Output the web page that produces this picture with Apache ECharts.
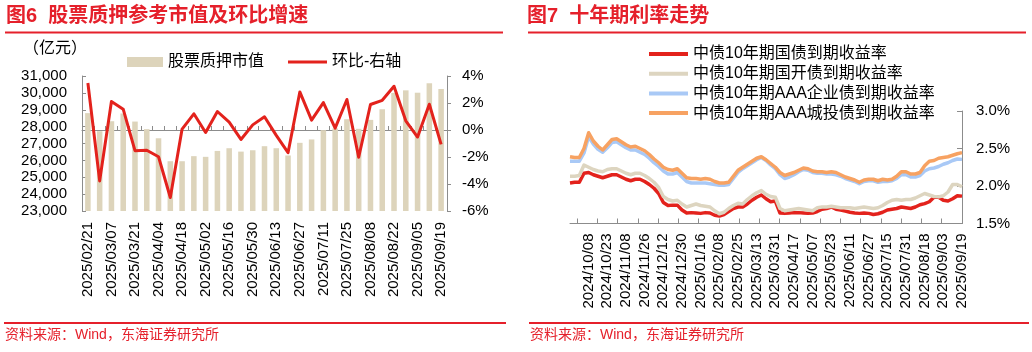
<!DOCTYPE html>
<html>
<head>
<meta charset="utf-8">
<script src="https://cdn.jsdelivr.net/npm/echarts@6/dist/echarts.min.js"></script>
<style>
    html, body { margin: 0; padding: 0; background: #fff; }
    #main { width: 1032px; height: 352px; }
</style>
</head>
<body>
<div id="main"></div>
<script>
// 图6 股票质押参考市值及环比增速 (weekly)
var pledgeDates = ['2025/02/21', '2025/02/28', '2025/03/07', '2025/03/14', '2025/03/21', '2025/03/28', '2025/04/04',
    '2025/04/11', '2025/04/18', '2025/04/25', '2025/05/02', '2025/05/09', '2025/05/16', '2025/05/23', '2025/05/30',
    '2025/06/06', '2025/06/13', '2025/06/20', '2025/06/27', '2025/07/04', '2025/07/11', '2025/07/18', '2025/07/25',
    '2025/08/01', '2025/08/08', '2025/08/15', '2025/08/22', '2025/08/29', '2025/09/05', '2025/09/12', '2025/09/19'];
// 亿元
var pledgeValue = [28800, 27730, 28320, 28780, 28300, 27850, 27310, 25950, 25950, 26250, 26210, 26560, 26720, 26520,
    26600, 26840, 26720, 26290, 27040, 27240, 27790, 27890, 28440, 27870, 28400, 29030, 30000, 30150, 30010, 30570, 30230];
// 环比 %
var pledgeChange = [3.48, -3.77, 2.11, 1.54, -1.53, -1.50, -1.98, -5.00, 0.07, 1.20, -0.18, 1.37, 0.58, -0.70, 0.38,
    0.98, -0.40, -1.68, 2.82, 0.73, 2.03, 0.14, 2.26, -2.02, 1.89, 2.20, 3.24, 0.68, -0.52, 1.91, -1.07];

// 图7 十年期利率走势 (sampled every few trading days, labels every 4 samples)
var rateTickLabels = ['2024/10/08', '2024/10/23', '2024/11/08', '2024/11/26', '2024/12/12', '2024/12/30',
    '2025/01/16', '2025/02/08', '2025/02/25', '2025/03/13', '2025/03/31', '2025/04/17', '2025/05/07',
    '2025/05/23', '2025/06/11', '2025/06/27', '2025/07/15', '2025/07/31', '2025/08/18', '2025/09/03', '2025/09/19'];
var cgbYield = [2.04, 2.05, 2.05, 2.17, 2.18, 2.15, 2.13, 2.11, 2.13, 2.15, 2.15, 2.12, 2.09, 2.07, 2.09, 2.09,
    2.06, 2.02, 1.97, 1.90, 1.78, 1.74, 1.745, 1.745, 1.68, 1.64, 1.645, 1.64, 1.635, 1.645, 1.64, 1.61,
    1.60, 1.62, 1.66, 1.70, 1.72, 1.72, 1.76, 1.81, 1.85, 1.88, 1.83, 1.79, 1.80, 1.64, 1.635, 1.64,
    1.645, 1.645, 1.64, 1.635, 1.64, 1.66, 1.69, 1.70, 1.72, 1.69, 1.68, 1.665, 1.65, 1.64, 1.635, 1.64,
    1.635, 1.62, 1.63, 1.65, 1.68, 1.69, 1.70, 1.72, 1.71, 1.70, 1.72, 1.75, 1.765, 1.79, 1.85, 1.85,
    1.81, 1.80, 1.83, 1.87, 1.865];
var cdbYield = [2.13, 2.13, 2.14, 2.28, 2.25, 2.22, 2.20, 2.19, 2.22, 2.23, 2.23, 2.20, 2.17, 2.15, 2.17, 2.17,
    2.14, 2.10, 2.05, 1.98, 1.86, 1.82, 1.80, 1.81, 1.76, 1.72, 1.74, 1.76, 1.74, 1.73, 1.72, 1.67,
    1.63, 1.65, 1.70, 1.74, 1.77, 1.76, 1.82, 1.87, 1.91, 1.94, 1.89, 1.86, 1.85, 1.70, 1.67, 1.68,
    1.69, 1.70, 1.69, 1.68, 1.67, 1.71, 1.72, 1.72, 1.73, 1.72, 1.71, 1.71, 1.71, 1.70, 1.71, 1.72,
    1.71, 1.70, 1.71, 1.74, 1.78, 1.81, 1.82, 1.81, 1.82, 1.82, 1.84, 1.87, 1.90, 1.88, 1.86, 1.855,
    1.87, 1.92, 2.02, 2.02, 1.99];
var aaaCorpYield = [2.33, 2.33, 2.33, 2.44, 2.66, 2.56, 2.49, 2.45, 2.51, 2.58, 2.59, 2.55, 2.51, 2.48, 2.48, 2.45,
    2.42, 2.37, 2.31, 2.26, 2.20, 2.16, 2.16, 2.18, 2.12, 2.06, 2.04, 2.04, 2.04, 2.04, 2.03, 2.02,
    2.01, 2.01, 2.02, 2.10, 2.18, 2.23, 2.27, 2.31, 2.35, 2.38, 2.34, 2.28, 2.23, 2.15, 2.10, 2.12,
    2.15, 2.19, 2.22, 2.21, 2.18, 2.17, 2.17, 2.16, 2.16, 2.15, 2.13, 2.10, 2.08, 2.06, 2.03, 2.06,
    2.07, 2.07, 2.05, 2.06, 2.06, 2.07, 2.10, 2.15, 2.15, 2.12, 2.12, 2.14, 2.20, 2.23, 2.24, 2.26,
    2.29, 2.31, 2.34, 2.36, 2.355];
var aaaLgfvYield = [2.39, 2.38, 2.38, 2.50, 2.71, 2.60, 2.53, 2.48, 2.55, 2.62, 2.63, 2.59, 2.55, 2.52, 2.53, 2.50,
    2.47, 2.42, 2.36, 2.31, 2.25, 2.22, 2.21, 2.23, 2.17, 2.11, 2.10, 2.10, 2.09, 2.10, 2.09, 2.06,
    2.04, 2.04, 2.05, 2.13, 2.21, 2.25, 2.29, 2.33, 2.37, 2.39, 2.35, 2.30, 2.25, 2.18, 2.14, 2.16,
    2.18, 2.21, 2.24, 2.23, 2.20, 2.19, 2.19, 2.18, 2.19, 2.18, 2.15, 2.12, 2.10, 2.08, 2.05, 2.08,
    2.09, 2.09, 2.07, 2.09, 2.08, 2.09, 2.13, 2.19, 2.19, 2.16, 2.16, 2.18, 2.27, 2.33, 2.34, 2.37,
    2.38, 2.39, 2.41, 2.43, 2.445];

var FONT = "'Liberation Sans', 'Noto Sans CJK SC', sans-serif";
var RED = '#E5202B';
var AXIS = '#8c8c8c';

var rateCats = cgbYield.map(function (v, i) { return String(i); });

var chart = echarts.init(document.getElementById('main'));

var option = {
    animation: false,
    backgroundColor: '#fff',
    textStyle: { fontFamily: FONT, color: '#000' },
    grid: [
        { left: 82, top: 76, width: 365, height: 135 },
        { left: 570, top: 111, width: 392, height: 112.5 },
        { left: 577, top: 111, width: 385, height: 112.5 }
    ],
    legend: [
        {
            data: ['股票质押市值'], left: 122, top: 49, icon: 'rect',
            itemWidth: 36, itemHeight: 10,
            textStyle: { fontSize: 16, fontFamily: FONT, color: '#000' }
        },
        {
            data: ['环比-右轴'], left: 283, top: 49, icon: 'rect',
            itemWidth: 39, itemHeight: 3,
            textStyle: { fontSize: 16, fontFamily: FONT, color: '#000' }
        },
        {
            data: ['中债10年期国债到期收益率', '中债10年期国开债到期收益率', '中债10年期AAA企业债到期收益率', '中债10年期AAA城投债到期收益率'],
            left: 644, top: 41, orient: 'vertical', icon: 'rect',
            itemWidth: 39, itemHeight: 4, itemGap: 3.7,
            textStyle: { fontSize: 16, fontFamily: FONT, color: '#000' }
        }
    ],
    xAxis: [
        {
            type: 'category', gridIndex: 0, data: pledgeDates,
            axisLine: { lineStyle: { color: AXIS } },
            axisTick: { show: true, inside: true, length: 4, interval: 0, lineStyle: { color: AXIS } },
            axisLabel: { rotate: 90, interval: 1, fontSize: 15, color: '#000', margin: 11, fontFamily: FONT }
        },
        {
            type: 'category', gridIndex: 1, data: rateCats, boundaryGap: false,
            axisLine: { lineStyle: { color: AXIS } },
            axisTick: { show: false },
            axisLabel: {
                rotate: 90, fontSize: 15, color: '#000', margin: 10, fontFamily: FONT,
                interval: function (i) { return i > 0 && i % 4 === 0; },
                formatter: function (v) { return rateTickLabels[parseInt(v, 10) / 4 - 1]; }
            }
        },
        {
            // tick marks only (spacing differs from label spacing in the original)
            type: 'value', gridIndex: 2, min: 0, max: 19, interval: 1,
            axisLine: { show: false },
            axisTick: { show: true, inside: true, length: 5, lineStyle: { color: AXIS } },
            axisLabel: { show: false },
            splitLine: { show: false }
        }
    ],
    yAxis: [
        {
            type: 'value', gridIndex: 0, position: 'left', min: 23000, max: 31000, interval: 1000,
            axisLine: { show: true, lineStyle: { color: AXIS } },
            axisTick: { show: true, inside: true, length: 4, lineStyle: { color: AXIS } },
            splitLine: { show: false },
            axisLabel: {
                fontSize: 15, color: '#000', margin: 15, fontFamily: FONT,
                formatter: function (v) { return v.toLocaleString('en-US'); }
            }
        },
        {
            type: 'value', gridIndex: 0, position: 'right', min: -6, max: 4, interval: 2,
            axisLine: { show: true, lineStyle: { color: AXIS } },
            axisTick: { show: true, length: 4, lineStyle: { color: AXIS } },
            splitLine: { show: false },
            axisLabel: { fontSize: 15, color: '#000', margin: 15, fontFamily: FONT, formatter: '{value}%' }
        },
        {
            type: 'value', gridIndex: 1, position: 'right', min: 1.5, max: 3.0, interval: 0.5,
            axisLine: { show: true, lineStyle: { color: AXIS } },
            axisTick: { show: true, inside: true, length: 5, lineStyle: { color: AXIS } },
            splitLine: { show: false },
            axisLabel: {
                fontSize: 15, color: '#000', margin: 14, fontFamily: FONT,
                formatter: function (v) { return v.toFixed(1) + '%'; }
            }
        },
        { type: 'value', gridIndex: 2, show: false, min: 0, max: 1 }
    ],
    series: [
        {
            name: '股票质押市值', type: 'bar', xAxisIndex: 0, yAxisIndex: 0,
            data: pledgeValue, barWidth: '47%',
            itemStyle: { color: '#DDD4BB' }
        },
        {
            name: '环比-右轴', type: 'line', xAxisIndex: 0, yAxisIndex: 1,
            data: pledgeChange, symbol: 'none',
            lineStyle: { color: '#E3221C', width: 3, join: 'round' },
            itemStyle: { color: '#E3221C' }
        },
        {
            name: '中债10年期国债到期收益率', type: 'line', xAxisIndex: 1, yAxisIndex: 2,
            data: cgbYield, symbol: 'none',
            lineStyle: { color: '#E3221C', width: 3.5, join: 'round' }, itemStyle: { color: '#E3221C' }
        },
        {
            name: '中债10年期国开债到期收益率', type: 'line', xAxisIndex: 1, yAxisIndex: 2,
            data: cdbYield, symbol: 'none',
            lineStyle: { color: '#DDD5C0', width: 3.5, join: 'round' }, itemStyle: { color: '#DDD5C0' }
        },
        {
            name: '中债10年期AAA企业债到期收益率', type: 'line', xAxisIndex: 1, yAxisIndex: 2,
            data: aaaCorpYield, symbol: 'none',
            lineStyle: { color: '#A9C9F6', width: 3.5, join: 'round' }, itemStyle: { color: '#A9C9F6' }
        },
        {
            name: '中债10年期AAA城投债到期收益率', type: 'line', xAxisIndex: 1, yAxisIndex: 2,
            data: aaaLgfvYield, symbol: 'none',
            lineStyle: { color: '#F7A262', width: 3.5, join: 'round' }, itemStyle: { color: '#F7A262' }
        }
    ],
    graphic: [
        { type: 'text', left: 6, top: 6, style: { text: '图6  股票质押参考市值及环比增速', fill: RED, font: 'bold 20px ' + FONT } },
        { type: 'text', left: 527, top: 6, style: { text: '图7  十年期利率走势', fill: RED, font: 'bold 20px ' + FONT } },
        { type: 'rect', shape: { x: 5, y: 31.5, width: 498, height: 2 }, style: { fill: RED } },
        { type: 'rect', shape: { x: 528, y: 31.5, width: 498, height: 2 }, style: { fill: RED } },
        { type: 'text', left: 23, top: 41, style: { text: '（亿元）', fill: '#000', font: '16px ' + FONT } },
        { type: 'rect', shape: { x: 4, y: 322, width: 502, height: 2 }, style: { fill: RED } },
        { type: 'rect', shape: { x: 529, y: 322, width: 500, height: 2 }, style: { fill: RED } },
        { type: 'text', left: 5, top: 328, style: { text: '资料来源：Wind，东海证券研究所', fill: RED, font: '14px ' + FONT } },
        { type: 'text', left: 530, top: 328, style: { text: '资料来源：Wind，东海证券研究所', fill: RED, font: '14px ' + FONT } }
    ]
};

chart.setOption(option);
</script>
</body>
</html>
